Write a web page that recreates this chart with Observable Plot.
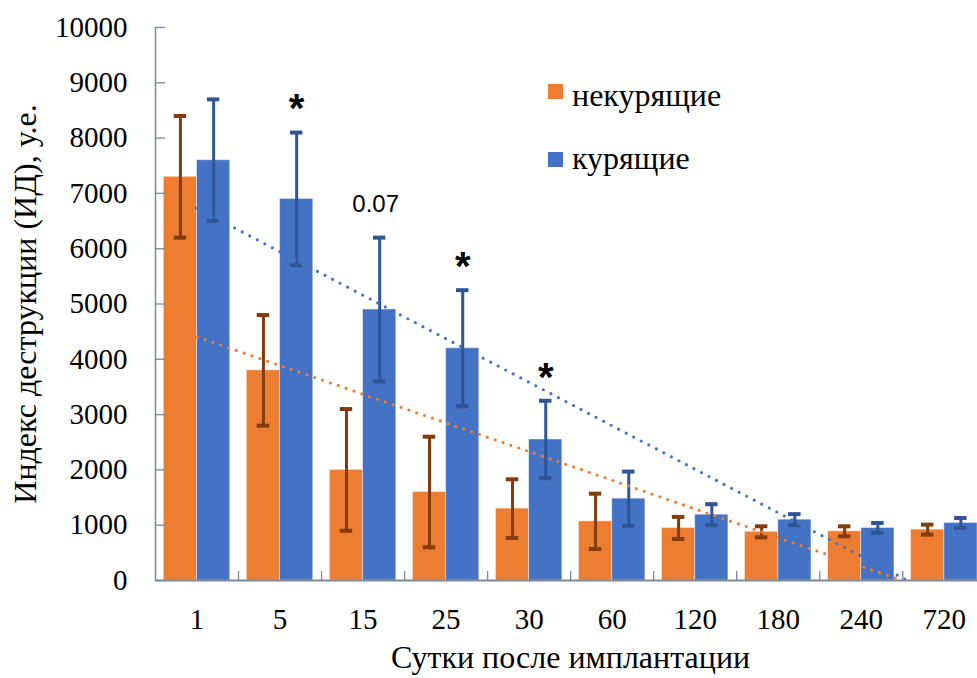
<!DOCTYPE html>
<html>
<head>
<meta charset="utf-8">
<script src="https://cdn.jsdelivr.net/npm/d3@7"></script>
<script src="https://cdn.jsdelivr.net/npm/@observablehq/plot@0.6"></script>
<style>
  html, body { margin: 0; padding: 0; background: #fff; overflow: hidden; }
  #wrap { position: relative; width: 977px; height: 678px; font-family: "Liberation Serif", "Times New Roman", serif; }
  .sw { position: absolute; width: 15px; height: 15px; }
  .lt { position: absolute; font-size: 32px; line-height: 28px; color: #000; white-space: nowrap; }
</style>
</head>
<body>
<div id="wrap"></div>
<script>
// ---- data ----
const categories = ["1", "5", "15", "25", "30", "60", "120", "180", "240", "720"];
const nonSmokers = [7300, 3800, 2000, 1600, 1300, 1070, 950, 880, 890, 920];
const nonSmokersErr = [1100, 1000, 1100, 1000, 530, 500, 200, 100, 90, 90];
const smokers = [7600, 6900, 4900, 4200, 2550, 1480, 1190, 1100, 950, 1040];
const smokersErr = [1100, 1200, 1300, 1050, 700, 490, 190, 100, 90, 90];
const annotations = ["", "*", "0.07", "*", "*", "", "", "", "", ""];
const yTicks = [0, 1000, 2000, 3000, 4000, 5000, 6000, 7000, 8000, 9000, 10000];
const seriesNames = ["некурящие", "курящие"];
const yTitle = "Индекс деструкции (ИД), у.е.";
const xTitle = "Сутки после имплантации";

// ---- styles ----
const ORANGE = "#ED7D31", BLUE = "#4472C4";
const ORANGE_ERR = "#843C0C", BLUE_ERR = "#2F5597";
const AXIS = "#7C8798";
const BAR = 0.4;   // bar width in category units
const CAP = 0.075; // half cap width in category units

const rows = [];
categories.forEach((c, k) => {
  rows.push({i: k + 1, cat: c, s: 0, value: nonSmokers[k], err: nonSmokersErr[k]});
  rows.push({i: k + 1, cat: c, s: 1, value: smokers[k], err: smokersErr[k]});
});
const ctr = d => d.s === 0 ? d.i - BAR / 2 : d.i + BAR / 2;
const col = d => d.s === 0 ? ORANGE : BLUE;
const ecol = d => d.s === 0 ? ORANGE_ERR : BLUE_ERR;
const ann = categories.map((c, k) => ({i: k + 1, label: annotations[k], hi: smokers[k] + smokersErr[k]}))
  .filter(d => d.label);

const serif = '"Liberation Serif", "Times New Roman", serif';
const sans = '"Liberation Sans", Arial, sans-serif';

const plot = Plot.plot({
  width: 977,
  height: 678,
  marginLeft: 155,
  marginRight: 0,
  marginTop: 27,
  marginBottom: 98,
  style: {fontFamily: serif, fontSize: "29px", color: "#000", background: "transparent"},
  x: {type: "linear", domain: [0.5, 10.4]},
  y: {domain: [0, 10000]},
  marks: [
    Plot.rect(rows, {
      x1: d => ctr(d) - BAR / 2, x2: d => ctr(d) + BAR / 2, y1: 0, y2: "value",
      fill: col, stroke: "#ffffff", strokeOpacity: 0.45, strokeWidth: 1, clip: true
    }),
    // error bars
    Plot.ruleX(rows, {x: ctr, y1: d => d.value - d.err, y2: d => d.value + d.err, stroke: ecol, strokeWidth: 3}),
    Plot.ruleY(rows, {y: d => d.value + d.err, x1: d => ctr(d) - CAP, x2: d => ctr(d) + CAP, stroke: ecol, strokeWidth: 4}),
    Plot.ruleY(rows, {y: d => d.value - d.err, x1: d => ctr(d) - CAP, x2: d => ctr(d) + CAP, stroke: ecol, strokeWidth: 4}),
    // linear trend lines (computed by Plot from the series)
    Plot.linearRegressionY(rows.filter(d => d.s === 0), {
      x: "i", y: "value", ci: 0, stroke: ORANGE, strokeWidth: 3.2,
      strokeDasharray: "0 8.3", strokeLinecap: "round", clip: true
    }),
    Plot.linearRegressionY(rows.filter(d => d.s === 1), {
      x: "i", y: "value", ci: 0, stroke: BLUE, strokeWidth: 3.2,
      strokeDasharray: "0 8.5", strokeLinecap: "round", clip: true
    }),
    // axes lines
    Plot.ruleX([0.5], {stroke: AXIS, strokeWidth: 1.5}),
    Plot.ruleY([0], {stroke: AXIS, strokeWidth: 2}),
    // y axis: labels (serif text) and inner ticks
    Plot.text(yTicks, {
      y: d => d, text: d => String(d), frameAnchor: "left", textAnchor: "end", lineAnchor: "middle",
      dx: -28, fontFamily: serif, fontSize: 29, fill: "#000"
    }),
    Plot.axisY({ticks: yTicks, text: null, tickSize: 10, dx: 10, stroke: AXIS, strokeWidth: 1.3, label: null}),
    // x axis: category labels and boundary ticks
    Plot.axisX({ticks: d3.range(1, 11), tickFormat: i => categories[i - 1], tickSize: 0, tickPadding: 28, label: null,
      fontSize: 29, fontFamily: serif, fill: "#000"}),
    Plot.axisX({ticks: d3.range(1.5, 10, 1), text: null, tickSize: 9, dy: -9, stroke: AXIS, strokeWidth: 1.3, label: null}),
    // annotations
    Plot.text(ann.filter(d => d.label === "*"), {
      x: d => d.i + BAR / 2, y: "hi", text: "label", dy: -23, lineAnchor: "middle",
      fontFamily: sans, fontSize: 40, fontWeight: "bold", fill: "#000"
    }),
    Plot.text(ann.filter(d => d.label !== "*"), {
      x: d => d.i + BAR / 2, y: "hi", text: "label", dy: -33, dx: -4, lineAnchor: "middle",
      fontFamily: sans, fontSize: 24, fill: "#000"
    }),
    // axis titles
    Plot.text([yTitle], {
      frameAnchor: "left", text: d => d, rotate: -90, dx: -130, dy: 0,
      textAnchor: "middle", lineAnchor: "middle",
      fontFamily: serif, fontSize: 32, fill: "#000"
    }),
    Plot.text([xTitle], {
      frameAnchor: "bottom", text: d => d, dy: 77, dx: 4,
      textAnchor: "middle", lineAnchor: "middle",
      fontFamily: serif, fontSize: 32, fill: "#000"
    })
  ]
});

const wrap = document.getElementById("wrap");
wrap.appendChild(plot);
plot.style.position = "absolute";
plot.style.left = "0px";
plot.style.top = "0px";

// legend
const legend = [
  {name: seriesNames[0], color: ORANGE, sq: 84, tx: 81},
  {name: seriesNames[1], color: BLUE, sq: 152, tx: 144}
];
legend.forEach(l => {
  const s = document.createElement("div");
  s.className = "sw";
  s.style.left = "548px"; s.style.top = l.sq + "px"; s.style.background = l.color;
  wrap.appendChild(s);
  const t = document.createElement("div");
  t.className = "lt";
  t.style.left = "572px"; t.style.top = l.tx + "px";
  t.textContent = l.name;
  wrap.appendChild(t);
});
</script>
</body>
</html>
